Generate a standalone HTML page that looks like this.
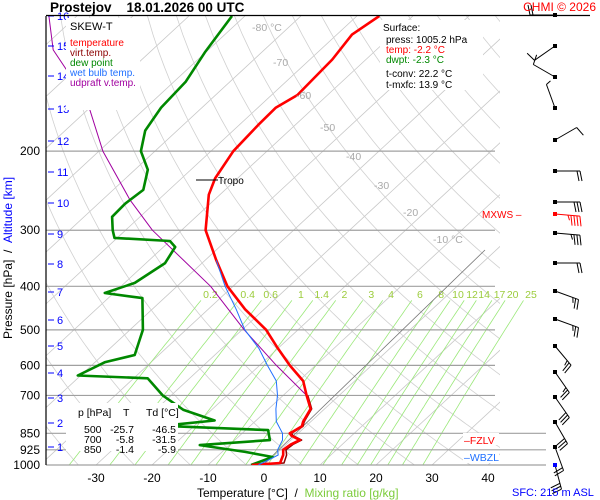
<!DOCTYPE html>
<html><head><meta charset="utf-8"><style>
html,body{margin:0;padding:0;background:#fff;}
svg{display:block;font-family:"Liberation Sans",sans-serif;}
</style></head><body>
<svg id="chart" width="600" height="500" viewBox="0 0 600 500">
<defs><clipPath id="pc"><rect x="46" y="16" width="454" height="449"/></clipPath></defs>
<rect width="600" height="500" fill="#fff"/>
<g id="grid" clip-path="url(#pc)"></g>
<g id="mix"></g>
<g id="isobars"></g>
<g id="series" clip-path="url(#pc)"></g>
<g id="barbs"></g>
<g id="axes"></g>
</svg>
<script>
const tempP=[100,110,125,150,160,175,200,230,250,300,350,400,450,500,550,600,650,700,750,800,820,840,850,860,880,900,925,950,990,1000];
const tempT=[-66,-67.3,-66,-65.4,-66.8,-66.6,-66,-64,-62,-55.7,-48,-41,-33.4,-25.7,-20,-14.6,-9.2,-5.8,-2.5,-1.4,-0.7,-1.2,-1.5,-0.8,1.6,0.8,0.5,1.5,2.5,-2.2];
const virtP=[700,750,800,820,840,850,860,880,900,925,950,990,1000];
const virtT=[-5.6,-2.3,-1.2,-0.5,-1.0,-1.2,-0.5,1.9,1.2,1.0,2.1,3.2,-1.8];
const dewP=[100,120,140,160,180,200,220,244,262,280,300,312,317,327,355,393,414,425,500,569,590,632,641,700,754,796,818,836,880,903,935,960,1000];
const dewT=[-92.3,-90.2,-87.9,-87.3,-85.7,-82.5,-77.7,-74.6,-75.2,-75,-72.3,-70.5,-60,-57.9,-56.6,-58.2,-61.6,-53.9,-47.7,-44.3,-48.2,-50.5,-37.5,-31.5,-25,-17.4,-25.7,-6,-3.75,-15.3,-5.9,0,-2.3];
const wbP=[350,400,450,500,550,600,650,700,750,800,850,880,925,950,1000];
const wbT=[-48,-41.4,-35,-29.5,-23.4,-18.6,-14,-11,-8.7,-6.2,-2.8,-1.5,-0.5,0.6,-1];
const parP=[100,119,154,200,257,300,400,500,600,700];
const parT=[-125,-117.7,-102,-89.3,-75,-65.2,-44,-29.6,-17,-5.8];
const isobarP=[200,300,400,500,600,700,850,925,1000];
const tempTicks=[-30,-20,-10,0,10,20,30,40];
const mixW=[0.2,0.4,0.6,1,1.4,2,3,4,6,8,10,12,14,17,20,25];
const mixLbl=["0.2","0.4","0.6","1","1.4","2","3","4","6","8","10","12","14","17","20","25"];
const kmY=[447,423,398,373,346,320,292,264,234,203,172,141,109,76,46,16];
const barbY=[15,46,77,108,140,171,202,214,233,263,291,319,346,372,397,422,447,465];
const barbDir=[270,235,300,340,60,90,90,95,95,90,110,110,140,145,145,150,160,165];
const barbSpd=[20,10,10,5,10,20,30,45,35,20,25,25,25,25,30,30,20,30];

const NS="http://www.w3.org/2000/svg";
function py(p){return 16+449*Math.log10(p/100);}
function tx(T,p){return 264+5.6*T+1.08*(465-py(p));}
function mk(tag,attrs,parent){const e=document.createElementNS(NS,tag);for(const k in attrs)e.setAttribute(k,attrs[k]);parent.appendChild(e);return e;}
const grid=document.getElementById('grid'),mix=document.getElementById('mix'),isob=document.getElementById('isobars'),ser=document.getElementById('series'),barbs=document.getElementById('barbs'),axes=document.getElementById('axes');

for(let T=-140;T<=40;T+=10){
  const l=mk('line',{x1:tx(T,1000),y1:py(1000),x2:tx(T,100),y2:py(100),stroke:'#c8c8c8','stroke-width':0.8},grid);
  
  
}
for(let th=230;th<=500;th+=10){
  let d='';
  for(let p=1000;p>=100;p-=10){const T=th*Math.pow(p/1000,0.2857)-273.15;d+=(d?'L':'M')+tx(T,p).toFixed(1)+','+py(p).toFixed(1);}
  const a=mk('path',{d:d,fill:'none',stroke:'#d0d0d0','stroke-width':0.8},grid);
  
  
}
function tdOf(w,p){const e=w*p/(622+w);const L=Math.log(e/6.112);return 243.5*L/(17.67-L);}
mixW.forEach((w,i)=>{
  let d='';
  for(let p=1000;p>=430;p-=10){d+=(d?'L':'M')+tx(tdOf(w,p),p).toFixed(1)+','+py(p).toFixed(1);}
  const m=mk('path',{d:d,fill:'none',stroke:'#9be87a','stroke-width':0.8},mix);
  
  
  const t=mk('text',{x:tx(tdOf(w,405),405),y:298,'font-size':10.5,fill:'#9ccc3c','text-anchor':'middle'},mix);
  t.textContent=mixLbl[i];
  
  
});
isobarP.forEach(p=>{
  const x2=p>=850?546:495;
  const l=mk('line',{x1:46,y1:py(p),x2:x2,y2:py(p),stroke:'#a0a0a0','stroke-width':1.2},isob);
  
  
  const t=mk('text',{x:40,y:py(p)+4,'font-size':12,fill:'#000','text-anchor':'end'},axes);
  t.textContent=p;
  
  
});
const cl=mk('line',{x1:263,y1:465,x2:485,y2:250,stroke:'#777','stroke-width':0.8},ser);



function curve(P,T,color,w,name){
  let d='';P.forEach((p,i)=>{d+=(i?'L':'M')+tx(T[i],p).toFixed(1)+','+py(p).toFixed(1);});
  const c=mk('path',{d:d,fill:'none',stroke:color,'stroke-width':w,'stroke-linejoin':'round'},ser);
  
  
}
curve(parP,parT,'#a000a0',1,'parcel-curve');
curve(dewP,dewT,'#008800',2.6,'dewpoint-curve');
curve(virtP,virtT,'#8b0000',1.5,'virtual-temp-curve');
curve(tempP,tempT,'#ff0000',2.6,'temperature-curve');
curve(wbP,wbT,'#2070ff',1,'wet-bulb-curve');

barbY.forEach((y,i)=>{
  const x=555,L=25,r=barbDir[i]*Math.PI/180;
  const sx=Math.sin(r),sy=-Math.cos(r);
  const ex=x+L*sx,ey=y+L*sy;
  const col=i===7?'#ff0000':'#000';
  const g=mk('g',{},barbs);
  
  
  mk('line',{x1:x,y1:y,x2:ex,y2:ey,stroke:col,'stroke-width':1},g);
  mk('rect',{x:x-2,y:y-2,width:4,height:4,fill:i===17?'#0000ff':col},g);
  let s=barbSpd[i],k=0;
  const bx=-sy,by=sx;
  while(s>=5){
    const len=s>=10?10:5;
    const ox=ex-sx*3*k,oy=ey-sy*3*k;
    mk('line',{x1:ox,y1:oy,x2:ox+bx*len+sx*2,y2:oy+by*len+sy*2,stroke:col,'stroke-width':1},g);
    s-=len;k++;
  }
});

tempTicks.forEach(T=>{
  const t=mk('text',{x:tx(T,1000),y:482,'font-size':12,fill:'#000','text-anchor':'middle'},axes);
  t.textContent=T;
  
  
});
kmY.forEach((y,i)=>{
  mk('line',{x1:48,y1:y,x2:54,y2:y,stroke:'#0000ff','stroke-width':1},axes);
  const t=mk('text',{x:57,y:y+4,'font-size':11,fill:'#0000ff'},axes);
  t.textContent=i+1;
  
  
});
</script>
<svg width="600" height="500" style="position:absolute;left:0;top:0">
<line x1="46" y1="16" x2="46" y2="465" stroke="#000" stroke-width="1.2"/>
<line x1="46" y1="15.5" x2="590" y2="15.5" stroke="#000" stroke-width="1.2"/>
<text x="50" y="12" font-size="13.5" font-weight="bold">Prostejov&#160;&#160;&#160;&#160;18.01.2026 00 UTC</text>
<text x="596" y="11" font-size="12" fill="#ff0000" text-anchor="end">CHMI © 2026</text>
<rect x="66" y="18" width="74" height="92" fill="#fff"/>
<text x="70" y="30" font-size="11">SKEW-T</text>
<text x="70" y="46" font-size="10" fill="#ff0000">temperature</text>
<text x="70" y="56" font-size="10" fill="#8b0000">virt.temp.</text>
<text x="70" y="66" font-size="10" fill="#008800">dew point</text>
<text x="70" y="76" font-size="10" fill="#2070ff">wet bulb temp.</text>
<text x="70" y="86" font-size="10" fill="#a000a0">udpraft v.temp.</text>
<rect x="380" y="20" width="103" height="70" fill="#fff"/>
<g font-size="10">
<text x="383" y="31">Surface:</text>
<text x="386" y="43">press: 1005.2 hPa</text>
<text x="386" y="53" fill="#ff0000">temp: -2.2 °C</text>
<text x="386" y="63" fill="#008800">dwpt: -2.3 °C</text>
<text x="386" y="77">t-conv: 22.2 °C</text>
<text x="386" y="88">t-mxfc: 13.9 °C</text>
</g>
<g font-size="10.5" fill="#aaa">
<text x="252" y="31">-80 °C</text><text x="273" y="66">-70</text><text x="296" y="99">-60</text>
<text x="320" y="131">-50</text><text x="346" y="160">-40</text><text x="374" y="189">-30</text>
<text x="403" y="216">-20</text><text x="433" y="243">-10 °C</text>
</g>
<line x1="196" y1="180" x2="218" y2="180" stroke="#000" stroke-width="1"/>
<text x="218" y="184" font-size="10">Tropo</text>
<text x="482" y="218" font-size="10" fill="#ff0000">MXWS –</text>
<rect x="463" y="433" width="36" height="12" fill="#fff"/>
<text x="464" y="444" font-size="10.5" fill="#ff0000">–FZLV</text>
<rect x="463" y="451" width="36" height="12" fill="#fff"/>
<text x="464" y="461" font-size="10.5" fill="#2070ff">–WBZL</text>
<rect x="66" y="403" width="112" height="48" fill="#fff"/>
<g font-size="10.5">
<text x="78" y="416">p [hPa]</text><text x="123" y="416">T</text><text x="146" y="416">Td [°C]</text>
<text x="84" y="433">500</text><text x="134" y="433" text-anchor="end">-25.7</text><text x="176" y="433" text-anchor="end">-46.5</text>
<text x="84" y="443">700</text><text x="134" y="443" text-anchor="end">-5.8</text><text x="176" y="443" text-anchor="end">-31.5</text>
<text x="84" y="453">850</text><text x="134" y="453" text-anchor="end">-1.4</text><text x="176" y="453" text-anchor="end">-5.9</text>
</g>
<text x="197" y="497" font-size="12">Temperature [°C]&#160;&#160;/&#160;&#160;<tspan fill="#7ccc3c">Mixing ratio [g/kg]</tspan></text>
<text x="512" y="496" font-size="11" fill="#0000ff">SFC: 215 m ASL</text>
<text transform="translate(12,258) rotate(-90)" font-size="12" text-anchor="middle">Pressure [hPa]&#160;&#160;/&#160;&#160;<tspan fill="#0000ff">Altitude [km]</tspan></text>
</svg>
</body></html>
